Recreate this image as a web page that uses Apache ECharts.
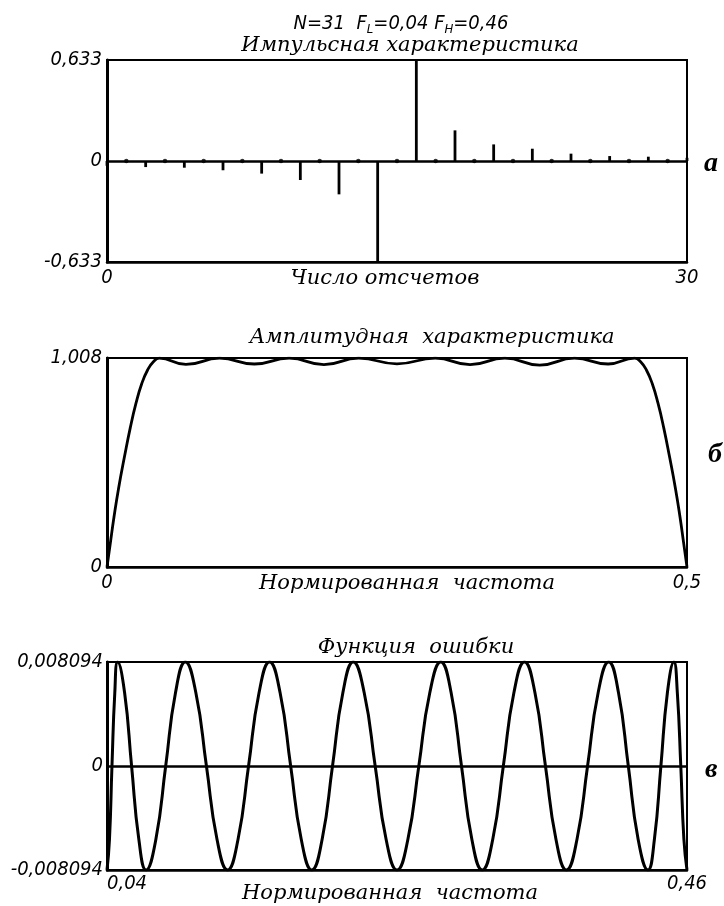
<!DOCTYPE html>
<html><head><meta charset="utf-8">
<script src="https://cdn.jsdelivr.net/npm/echarts/dist/echarts.min.js"></script>
<style>html,body{margin:0;padding:0;background:#fff}#c{width:724px;height:906px}</style>
</head><body><div id="c"></div>
<script>
// ---- Panel a: impulse response ----
const sampleIndex = [0,1,2,3,4,5,6,7,8,9,10,11,12,13,14,15,16,17,18,19,20,21,22,23,24,25,26,27,28,29,30];
const impulse = [-0.03,0,-0.038,0,-0.042,0,-0.058,0,-0.079,0,-0.119,0,-0.209,0,-0.633,0,
                 0.633,0,0.192,0,0.104,0,0.077,0,0.046,0,0.031,0,0.027,0,0.02];
const impulseYTicks = ['-0,633','0','0,633'];
const impulseXTicks = ['0','30'];

// ---- Panel b: amplitude response ----
const ampFreq = [0,0.003,0.006,0.01,0.015,0.02,0.025,0.03,0.035,0.04,0.045,0.068,0.097,0.127,0.157,0.187,0.217,
                 0.25,0.283,0.313,0.343,0.373,0.403,0.432,0.455,0.46,0.465,0.47,0.475,0.48,0.485,0.49,0.494,0.497,0.5];
const ampValue = [0,0.12,0.24,0.38,0.53,0.67,0.79,0.885,0.95,0.99,1.007,0.977,1.007,0.979,1.007,0.976,1.007,
                  0.98,1.007,0.976,1.007,0.974,1.007,0.979,1.007,0.99,0.95,0.885,0.79,0.67,0.53,0.38,0.24,0.12,0];
const ampYTicks = ['0','1,008'];
const ampXTicks = ['0','0,5'];

// ---- Panel c: error function (extrema, half-height points, zero crossings) ----
const errFreq = [0.04,0.0418,0.0436,0.04565,0.0477,0.05275,0.0578,0.06305,0.0683,0.0754,0.0825,0.0896,0.0967,
                 0.10435,0.112,0.11965,0.1273,0.1349,0.1425,0.1501,0.1577,0.16535,0.173,0.18065,0.1883,
                 0.1958,0.2033,0.2108,0.2183,0.22625,0.2342,0.2421,0.25,0.2579,0.2658,0.27375,0.2817,
                 0.2892,0.2967,0.3042,0.3117,0.31935,0.327,0.33465,0.3423,0.3499,0.3575,0.3651,0.3727,
                 0.38035,0.388,0.39565,0.4033,0.4104,0.4175,0.4246,0.4317,0.4364,0.4411,0.4458,0.4505,
                 0.453,0.4555,0.45775,0.46];
const errValue = [-0.008094,-0.0057,0,0.0057,0.008094,0.0057,0,-0.0057,-0.008094,-0.0057,0,0.0057,0.008094,
                  0.0057,0,-0.0057,-0.008094,-0.0057,0,0.0057,0.008094,0.0057,0,-0.0057,-0.008094,
                  -0.0057,0,0.0057,0.008094,0.0057,0,-0.0057,-0.008094,-0.0057,0,0.0057,0.008094,
                  0.0057,0,-0.0057,-0.008094,-0.0057,0,0.0057,0.008094,0.0057,0,-0.0057,-0.008094,
                  -0.0057,0,0.0057,0.008094,0.0057,0,-0.0057,-0.008094,-0.0057,0,0.0057,0.008094,
                  0.0057,0,-0.0057,-0.008094];
const errYTicks = ['-0,008094','0','0,008094'];
const errXTicks = ['0,04','0,46'];

const NUM_FONT = "'Liberation Sans Narrow','DejaVu Sans Condensed','Liberation Sans',sans-serif";
const TXT_FONT = "'DejaVu Serif','Liberation Serif',serif";

function numLabel(extra){
  return Object.assign({color:'#000',fontFamily:NUM_FONT,fontStyle:'italic',fontSize:20}, extra||{});
}
function pick(ticks, v, min, max){
  if (Math.abs(v-min) < 1e-9) return ticks[0];
  if (Math.abs(v-max) < 1e-9) return ticks[ticks.length-1];
  return ticks.length === 3 ? ticks[1] : '';
}
const border = {show:true,borderColor:'#000',borderWidth:2};
const xLine = {show:true,onZero:false,lineStyle:{color:'#000',width:2.5}};
const yLine = {show:true,onZero:false,lineStyle:{color:'#000',width:3}};
const nameStyle = (pad)=>({color:'#000',fontFamily:TXT_FONT,fontStyle:'italic',fontSize:21,padding:pad});
const titleStyle = {color:'#000',fontFamily:TXT_FONT,fontStyle:'italic',fontWeight:'normal',fontSize:21};
const letterStyle = {color:'#000',fontFamily:"'Liberation Serif',serif",fontStyle:'italic',fontWeight:'bold',fontSize:28};
const zeroLine = {silent:true,symbol:'none',label:{show:false},lineStyle:{color:'#000',width:2.5,type:'solid'},data:[{yAxis:0}]};

const chart = echarts.init(document.getElementById('c'), null, {renderer:'canvas'});
chart.setOption({
  backgroundColor:'#fff',
  animation:false,
  title:[
    {text:'N=31  F{s|L}=0,04 F{s|H}=0,46', left:396, top:6, textAlign:'center',
     textStyle:{color:'#000',fontFamily:NUM_FONT,fontStyle:'italic',fontWeight:'normal',fontSize:20,
       rich:{s:{fontFamily:NUM_FONT,fontStyle:'italic',fontSize:13,color:'#000',verticalAlign:'bottom',padding:[12,0,0,0]}}}},
    {text:'Импульсная характеристика', left:405, top:30, textAlign:'center', textStyle:titleStyle},
    {text:'Амплитудная  характеристика', left:427, top:322, textAlign:'center', textStyle:titleStyle},
    {text:'Функция  ошибки', left:411, top:632, textAlign:'center', textStyle:titleStyle}
    ,{text:'а', left:699, top:145, textStyle:letterStyle},
    {text:'б', left:703, top:436, textStyle:letterStyle},
    {text:'в', left:700, top:751, textStyle:letterStyle}
  ],
  grid:[
    Object.assign({left:107, top:60, width:580, height:202, outerBoundsMode:'none'}, border),
    Object.assign({left:107, top:358, width:580, height:209, outerBoundsMode:'none'}, border),
    Object.assign({left:107, top:662, width:580, height:208, outerBoundsMode:'none'}, border)
  ],
  xAxis:[
    {gridIndex:0, type:'value', min:0, max:30, interval:30, axisLine:xLine, axisTick:{show:false}, splitLine:{show:false},
     axisLabel:numLabel({margin:6, showMinLabel:true, showMaxLabel:true, formatter:v=>pick(impulseXTicks,v,0,30)}),
     name:'Число отсчетов', nameLocation:'middle', nameGap:6, nameMoveOverlap:false, nameTextStyle:nameStyle([0,24,0,0])},
    {gridIndex:1, type:'value', min:0, max:0.5, interval:0.5, axisLine:xLine, axisTick:{show:false}, splitLine:{show:false},
     axisLabel:numLabel({margin:6, showMinLabel:true, showMaxLabel:true, formatter:v=>pick(ampXTicks,v,0,0.5)}),
     name:'Нормированная  частота', nameLocation:'middle', nameGap:6, nameMoveOverlap:false, nameTextStyle:nameStyle([0,0,0,20])},
    {gridIndex:2, type:'value', min:0.04, max:0.46, interval:0.42, axisLine:xLine, axisTick:{show:false}, splitLine:{show:false},
     axisLabel:numLabel({margin:4, showMinLabel:true, showMaxLabel:true, alignMinLabel:'left', formatter:v=>pick(errXTicks,v,0.04,0.46)}),
     name:'Нормированная  частота', nameLocation:'middle', nameGap:13, nameMoveOverlap:false, nameTextStyle:nameStyle([0,14,0,0])}
  ],
  yAxis:[
    {gridIndex:0, type:'value', min:-0.633, max:0.633, interval:0.633, axisLine:yLine, axisTick:{show:false}, splitLine:{show:false},
     axisLabel:numLabel({margin:5, showMinLabel:true, showMaxLabel:true, formatter:v=>pick(impulseYTicks,v,-0.633,0.633)})},
    {gridIndex:1, type:'value', min:0, max:1.008, interval:1.008, axisLine:yLine, axisTick:{show:false}, splitLine:{show:false},
     axisLabel:numLabel({margin:5, showMinLabel:true, showMaxLabel:true, formatter:v=>pick(ampYTicks,v,0,1.008)})},
    {gridIndex:2, type:'value', min:-0.008094, max:0.008094, interval:0.008094, axisLine:yLine, axisTick:{show:false}, splitLine:{show:false},
     axisLabel:numLabel({margin:4, showMinLabel:true, showMaxLabel:true, formatter:v=>pick(errYTicks,v,-0.008094,0.008094)})}
  ],
  series:[
    {type:'bar', xAxisIndex:0, yAxisIndex:0, barWidth:2.8, itemStyle:{color:'#000'}, markLine:zeroLine,
     data: sampleIndex.map((x,i)=>[x, impulse[i]]).filter(d=>d[1]!==0)},
    {type:'scatter', xAxisIndex:0, yAxisIndex:0, symbol:'circle', symbolSize:4.5, itemStyle:{color:'#000'},
     data: sampleIndex.map((x,i)=>[x, impulse[i]]).filter(d=>d[1]===0)},
    {type:'line', xAxisIndex:1, yAxisIndex:1, smooth:0.5, showSymbol:false, lineStyle:{color:'#000',width:2.8},
     data: ampFreq.map((f,i)=>[f, ampValue[i]])},
    {type:'line', xAxisIndex:2, yAxisIndex:2, smooth:0.5, showSymbol:false, lineStyle:{color:'#000',width:3}, markLine:zeroLine,
     data: errFreq.map((f,i)=>[f, errValue[i]])}
  ]
});
</script></body></html>
